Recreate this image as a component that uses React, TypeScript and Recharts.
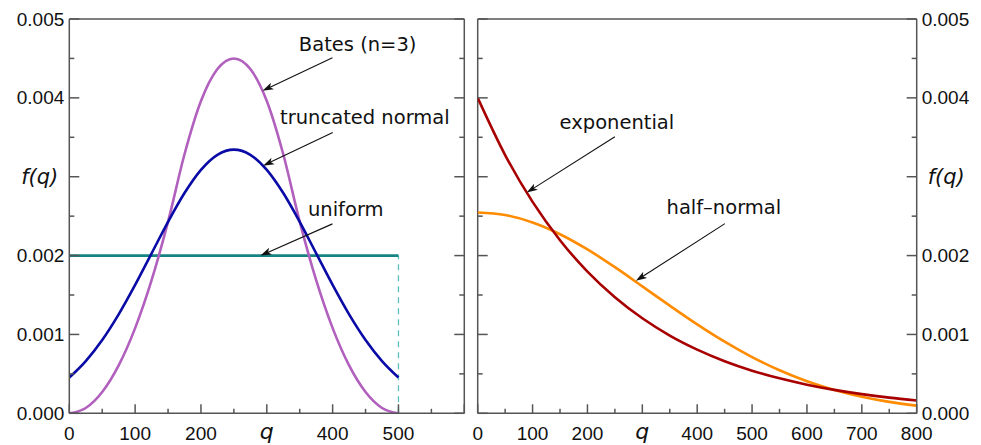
import React from 'react';
import { LineChart, Line, XAxis, YAxis, ReferenceLine, ReferenceDot } from 'recharts';

// ---- data ----
const qLeft = [0, 25, 50, 75, 100, 125, 150, 175, 200, 225, 250, 275, 300, 325, 350, 375, 400, 425, 450, 475, 500];
const bates = [0, 0.0000675, 0.00027, 0.0006075, 0.00108, 0.0016875, 0.00243, 0.003285, 0.00396, 0.004365, 0.0045, 0.004365, 0.00396, 0.003285, 0.00243, 0.0016875, 0.00108, 0.0006075, 0.00027, 0.0000675, 0];
const truncNormal = [0.000453, 0.000662, 0.00093, 0.001255, 0.001628, 0.002028, 0.002428, 0.002793, 0.003087, 0.003278, 0.003344, 0.003278, 0.003087, 0.002793, 0.002428, 0.002028, 0.001628, 0.001255, 0.00093, 0.000662, 0.000453];
const qUniform = [0, 500];
const uniform = [0.002, 0.002];

const qRight = [0, 50, 100, 150, 200, 250, 300, 350, 400, 450, 500, 550, 600, 650, 700, 750, 800];
const exponential = [0.004, 0.003275, 0.002681, 0.002195, 0.001797, 0.001472, 0.001205, 0.000986, 0.000808, 0.000661, 0.000541, 0.000443, 0.000363, 0.000297, 0.000243, 0.000199, 0.000163];
const halfNormal = [0.002547, 0.002515, 0.00242, 0.002271, 0.002078, 0.001853, 0.00161, 0.001365, 0.001128, 0.000908, 0.000713, 0.000546, 0.000407, 0.000296, 0.00021, 0.000145, 0.0000978];

const xTicksLeft = [0, 50, 100, 150, 200, 250, 300, 350, 400, 450, 500, 550, 600];
const xTicksRight = [0, 50, 100, 150, 200, 250, 300, 350, 400, 450, 500, 550, 600, 650, 700, 750, 800];
const yTicks = [0, 0.0005, 0.001, 0.0015, 0.002, 0.0025, 0.003, 0.0035, 0.004, 0.0045, 0.005];

const batesData = qLeft.map((q, i) => ({ q, v: bates[i] }));
const tnData = qLeft.map((q, i) => ({ q, v: truncNormal[i] }));
const uniData = qUniform.map((q, i) => ({ q, v: uniform[i] }));
const expData = qRight.map((q, i) => ({ q, v: exponential[i] }));
const hnData = qRight.map((q, i) => ({ q, v: halfNormal[i] }));

// ---- layout ----
const H = 445;
const PT = 19;
const PB = 413.3;
const AXIS = '#555555';
const NUM_FONT = '"Liberation Sans", Arial, sans-serif';
const ANN_FONT = '"DejaVu Sans", sans-serif';

const isMajorY = (v: number) => Math.abs(v * 1000 - Math.round(v * 1000)) < 1e-6;
const isMajorX = (v: number) => v % 100 === 0;

const makeYTick = (pl: number, pr: number, side: 'left' | 'right') => (props: any) => {
  const { y, payload } = props;
  const v = payload.value;
  const major = isMajorY(v);
  const len = major ? 10 : 5;
  let label: any = null;
  if (major) {
    const tx = side === 'left' ? pl - 5 : pr + 5;
    const anchor = side === 'left' ? 'end' : 'start';
    if (Math.abs(v - 0.003) < 1e-9) {
      label = (
        <text x={side === 'left' ? pl - 11 : pr + 11} y={y} textAnchor={anchor} dominantBaseline="central"
          fontFamily={ANN_FONT} fontStyle="italic" fontSize={21} fill="#111">f(q)</text>
      );
    } else {
      label = (
        <text x={tx} y={y} textAnchor={anchor} dominantBaseline="central"
          fontFamily={NUM_FONT} fontSize={19} fill="#111">{v.toFixed(3)}</text>
      );
    }
  }
  return (
    <g>
      <line x1={pl} y1={y} x2={pl + len} y2={y} stroke={AXIS} strokeWidth={1.5} />
      <line x1={pr - len} y1={y} x2={pr} y2={y} stroke={AXIS} strokeWidth={1.5} />
      {label}
    </g>
  );
};

const makeXTick = (maxLabel: number) => (props: any) => {
  const { x, payload } = props;
  const v = payload.value;
  const major = isMajorX(v);
  const len = major ? 9 : 4.5;
  let label: any = null;
  if (major && v <= maxLabel) {
    if (v === 300) {
      label = (
        <text x={x} y={439} textAnchor="middle" fontFamily={ANN_FONT} fontStyle="italic" fontSize={22} fill="#111">q</text>
      );
    } else {
      label = (
        <text x={x} y={440} textAnchor="middle" fontFamily={NUM_FONT} fontSize={19} fill="#111">{v}</text>
      );
    }
  }
  return (
    <g>
      <line x1={x} y1={PB} x2={x} y2={PB - len} stroke={AXIS} strokeWidth={1.5} />
      {label}
    </g>
  );
};

const arrowShape = (props: any) => {
  const { x1, y1, x2, y2 } = props;
  const dx = x2 - x1;
  const dy = y2 - y1;
  const L = Math.sqrt(dx * dx + dy * dy) || 1;
  const ux = dx / L;
  const uy = dy / L;
  const hl = 11;
  const hw = 3.6;
  const bx = x2 - ux * hl;
  const by = y2 - uy * hl;
  const nx = -uy;
  const ny = ux;
  const pts = `${x2},${y2} ${bx + nx * hw},${by + ny * hw} ${x2 - ux * hl * 0.75},${y2 - uy * hl * 0.75} ${bx - nx * hw},${by - ny * hw}`;
  return (
    <g>
      <line x1={x1} y1={y1} x2={x2 - ux * 6} y2={y2 - uy * 6} stroke="#111" strokeWidth={1.1} />
      <polygon points={pts} fill="#111" />
    </g>
  );
};

const textShape = (txt: string) => (props: any) => (
  <text x={props.cx} y={props.cy} textAnchor="middle" dominantBaseline="central"
    fontFamily={ANN_FONT} fontSize={19.5} fill="#111">{txt}</text>
);

// ---- annotation anchors (data coords) ----
const annLeft = [
  { text: 'Bates (n=3)', tx: 438, ty: 0.00468, from: [399.7, 0.00451], to: [293.5, 0.00409] },
  { text: 'truncated normal', tx: 449, ty: 0.003752, from: [400.2, 0.003562], to: [294.4, 0.00314] },
  { text: 'uniform', tx: 420, ty: 0.002583, from: [399.7, 0.002402], to: [290.4, 0.002] },
];
const annRight = [
  { text: 'exponential', tx: 253.7, ty: 0.003693, from: [250, 0.003507], to: [89.3, 0.002799] },
  { text: 'half\u2013normal', tx: 448.6, ty: 0.002609, from: [450.5, 0.002405], to: [288.3, 0.00168] },
];

const renderAnn = (list: any[]) =>
  list.flatMap((a, i) => [
    <ReferenceLine key={`al${i}`} segment={[{ x: a.from[0], y: a.from[1] }, { x: a.to[0], y: a.to[1] }]}
      shape={arrowShape} ifOverflow="visible" />,
    <ReferenceDot key={`ad${i}`} x={a.tx} y={a.ty} r={0} shape={textShape(a.text)} ifOverflow="visible" />,
  ]);

export default function App() {
  const LW = 470;
  const RW = 511;
  const lPL = 69.3, lPR = 464.3;
  const rPL = 7.7, rPR = 446.7;
  return (
    <div style={{ position: 'absolute', left: 0, top: 0, width: 981, height: H, background: '#fff' }}>
      <div style={{ position: 'absolute', left: 0, top: 0 }}>
        <LineChart width={LW} height={H} margin={{ top: PT, right: LW - lPR, bottom: 0, left: 0 }}>
          <XAxis type="number" dataKey="q" domain={[0, 600]} ticks={xTicksLeft} interval={0}
            height={H - PB} tickLine={false} axisLine={{ stroke: AXIS, strokeWidth: 1.5 }}
            tick={makeXTick(500)} allowDataOverflow />
          <YAxis type="number" domain={[0, 0.005]} ticks={yTicks} interval={0} width={lPL}
            tickLine={false} axisLine={{ stroke: AXIS, strokeWidth: 1.5 }} tick={makeYTick(lPL, lPR, 'left')}
            allowDataOverflow />
          <ReferenceLine y={0.005} stroke={AXIS} strokeWidth={1.5} />
          <ReferenceLine x={600} stroke={AXIS} strokeWidth={1.5} />
          <ReferenceLine segment={[{ x: 500, y: 0 }, { x: 500, y: 0.002 }]} stroke="#5dbdbd" strokeWidth={1.3}
            strokeDasharray="6 5" />
          <Line data={uniData} dataKey="v" type="linear" stroke="#178383" strokeWidth={2.6} dot={false}
            isAnimationActive={false} />
          <Line data={batesData} dataKey="v" type="monotone" stroke="#b160bd" strokeWidth={2.6} dot={false}
            isAnimationActive={false} />
          <Line data={tnData} dataKey="v" type="monotone" stroke="#0a0aa6" strokeWidth={2.6} dot={false}
            isAnimationActive={false} />
          {renderAnn(annLeft)}
        </LineChart>
      </div>
      <div style={{ position: 'absolute', left: LW, top: 0 }}>
        <LineChart width={RW} height={H} margin={{ top: PT, right: 0, bottom: 0, left: rPL }}>
          <XAxis type="number" dataKey="q" domain={[0, 800]} ticks={xTicksRight} interval={0}
            height={H - PB} tickLine={false} axisLine={{ stroke: AXIS, strokeWidth: 1.5 }}
            tick={makeXTick(800)} allowDataOverflow />
          <YAxis type="number" orientation="right" domain={[0, 0.005]} ticks={yTicks} interval={0}
            width={RW - rPR} tickLine={false} axisLine={{ stroke: AXIS, strokeWidth: 1.5 }}
            tick={makeYTick(rPL, rPR, 'right')} allowDataOverflow />
          <ReferenceLine y={0.005} stroke={AXIS} strokeWidth={1.5} />
          <ReferenceLine x={0} stroke={AXIS} strokeWidth={1.5} />
          <Line data={hnData} dataKey="v" type="monotone" stroke="#ff8c00" strokeWidth={2.6} dot={false}
            isAnimationActive={false} />
          <Line data={expData} dataKey="v" type="monotone" stroke="#a80000" strokeWidth={2.6} dot={false}
            isAnimationActive={false} />
          {renderAnn(annRight)}
        </LineChart>
      </div>
    </div>
  );
}
